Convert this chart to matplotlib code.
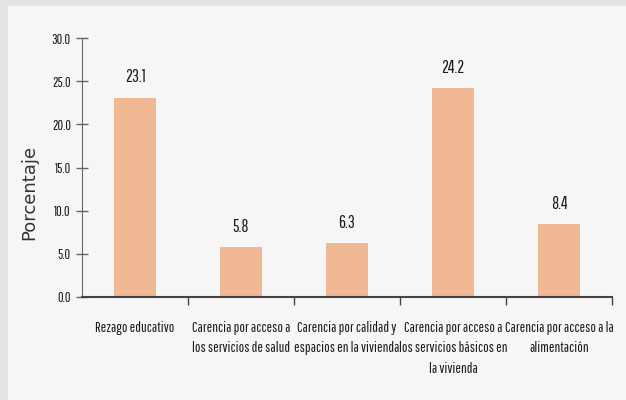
import numpy as np
import matplotlib.pyplot as plt
from matplotlib.patches import Rectangle

categorias = ["Rezago educativo",
              "Carencia por acceso a\nlos servicios de salud",
              "Carencia por calidad y\nespacios en la vivienda",
              "Carencia por acceso a\nlos servicios básicos en\nla vivienda",
              "Carencia por acceso a la\nalimentación"]
valores = [23.1, 5.8, 6.3, 24.2, 8.4]
yticks = [0.0, 5.0, 10.0, 15.0, 20.0, 25.0, 30.0]

plt.rcParams['font.family'] = ['Pathway Gothic One', 'DejaVu Sans']

fig = plt.figure(figsize=(6.26, 4.0), dpi=100)
fig.patch.set_facecolor('#e2e3e4')
# panel claro
fig.patches.append(Rectangle((8/626, 0), 1, 394/400, transform=fig.transFigure,
                             facecolor='#f6f6f6', edgecolor='none', zorder=-1))

ax = fig.add_axes([82/626, 103/400, 530/626, 259/400])
ax.set_facecolor('none')

x = np.arange(len(categorias))
ax.bar(x, valores, width=0.4, color='#f0b993', zorder=2)
for xi, v in zip(x, valores):
    ax.text(xi, v + 1.4, f"{v:.1f}", ha='center', va='bottom', fontsize=12.5, color='#1a1a1a')

ax.set_xlim(-0.5, len(categorias) - 0.5)
ax.set_ylim(0, 30)
ax.set_yticks(yticks)
ax.set_yticklabels([f"{t:.1f}" for t in yticks], fontsize=10, color='#1a1a1a')
ax.set_xticks(x)
ax.set_xticklabels(categorias, fontsize=10.5, color='#1a1a1a', linespacing=1.6)
ax.tick_params(axis='x', length=0, pad=17)
ax.set_xticks(np.arange(len(categorias)) + 0.5, minor=True)
ax.tick_params(axis='x', which='minor', length=6, width=1, color='#444444', direction='out')
ax.tick_params(axis='y', length=8, width=1, color='#666666', direction='inout', pad=4)

for s in ['top', 'right']:
    ax.spines[s].set_visible(False)
ax.spines['left'].set_color('#666666')
ax.spines['bottom'].set_color('#444444')
ax.spines['bottom'].set_linewidth(1.5)

ax.set_ylabel("Porcentaje", fontsize=13, color='#333333', family=['DejaVu Sans'])
ax.yaxis.set_label_coords(-44/530, 0.405)

fig.savefig('out.png', dpi=100, facecolor=fig.get_facecolor())
